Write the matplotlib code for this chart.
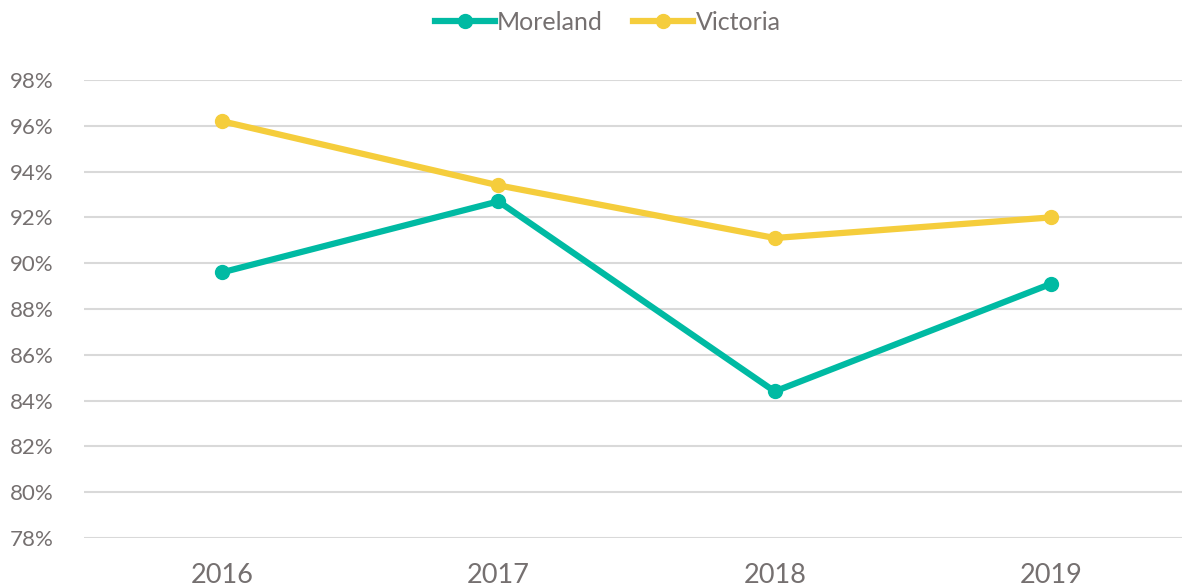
import matplotlib
matplotlib.use("Agg")
import matplotlib.pyplot as plt
from matplotlib.ticker import FuncFormatter

years = ["2016", "2017", "2018", "2019"]
moreland = [89.6, 92.7, 84.4, 89.1]
victoria = [96.2, 93.4, 91.1, 92.0]
y_ticks = [78, 80, 82, 84, 86, 88, 90, 92, 94, 96, 98]

plt.rcParams['font.family'] = ['Lato', 'DejaVu Sans']
text_color = '#757070'

fig = plt.figure(figsize=(11.82, 5.87), dpi=100)
ax = fig.add_axes([0.071, 0.0835, 0.929, 0.7802])

x = range(len(years))
ax.plot(x, moreland, color='#00BAA3', lw=4.5, marker='o', ms=10, label='Moreland', clip_on=False, zorder=3)
ax.plot(x, victoria, color='#F5CD3C', lw=4.5, marker='o', ms=10, label='Victoria', clip_on=False, zorder=3)

ax.set_xlim(-0.5, 3.474)
ax.set_ylim(78, 98)
ax.set_yticks(y_ticks)
ax.yaxis.set_major_formatter(FuncFormatter(lambda v, p: f"{v:.0f}%"))
ax.set_xticks(list(x))
ax.set_xticklabels(years)

ax.grid(axis='y', color='#d9d9d9', lw=1.5)
ax.set_axisbelow(True)
for s in ax.spines.values():
    s.set_visible(False)
ax.tick_params(axis='y', length=0, labelsize=16, labelcolor=text_color, pad=22)
ax.tick_params(axis='x', length=0, labelsize=19.5, labelcolor=text_color, pad=18)

leg = ax.legend(loc='center', bbox_to_anchor=(0.514, 0.962), bbox_transform=fig.transFigure,
                ncol=2, frameon=False, fontsize=18, handlelength=2.4, handletextpad=0.1,
                columnspacing=1.2, labelcolor=text_color)

fig.savefig("out.png", dpi=100)
